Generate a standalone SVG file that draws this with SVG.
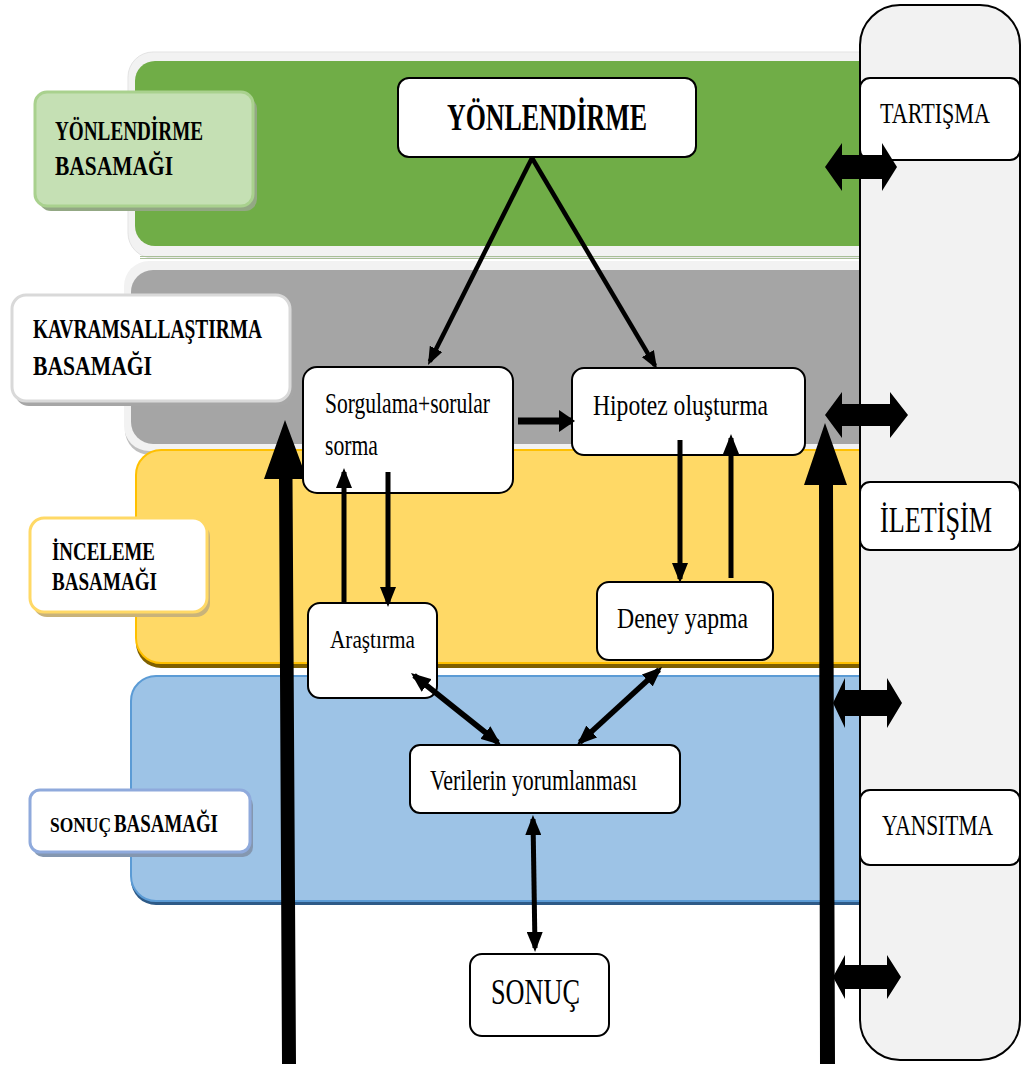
<svg xmlns="http://www.w3.org/2000/svg" width="1023" height="1068" viewBox="0 0 1023 1068">
  <style>
    .node { fill: #ffffff; stroke: #000000; stroke-width: 2; }
    .t { font-family: "Liberation Serif", "DejaVu Serif", "Noto Serif", "Times New Roman", serif; fill: #000000; }
    .b { font-weight: bold; }
    .link { fill: none; stroke: #000000; }
    .block { fill: #000000; }
  </style>
  <defs>
    <marker id="ah" markerUnits="userSpaceOnUse" markerWidth="20" markerHeight="16" refX="16" refY="8" orient="auto-start-reverse">
      <path d="M0,0 L20,8 L0,16 z" fill="#000"/>
    </marker>
    <marker id="ahs" markerUnits="userSpaceOnUse" markerWidth="18" markerHeight="14" refX="14" refY="7" orient="auto-start-reverse">
      <path d="M0,0 L18,7 L0,14 z" fill="#000"/>
    </marker>
    <marker id="ahw" markerUnits="userSpaceOnUse" markerWidth="16" markerHeight="22" refX="12" refY="11" orient="auto">
      <path d="M0,0 L16,11 L0,22 z" fill="#000"/>
    </marker>
  </defs>

  <!-- stage bands -->
  <g id="bands">
    <g id="band-yonlendirme">
      <rect x="128" y="52" width="780" height="206" rx="25" fill="#f2f2f2" stroke="#e3e3e3" stroke-width="1"/>
      <rect x="135" y="61" width="770" height="185" rx="20" fill="#70ad47"/>
      <line x1="140" y1="256.5" x2="860" y2="256.5" stroke="#a8bf98" stroke-width="1"/>
      <line x1="140" y1="258.5" x2="860" y2="258.5" stroke="#a8bf98" stroke-width="1"/>
    </g>
    <g id="band-kavramsallastirma">
      <rect x="125" y="264" width="780" height="191" rx="25" fill="#bfbfbf"/>
      <rect x="124" y="261" width="780" height="190" rx="25" fill="#f2f2f2"/>
      <rect x="131" y="270" width="770" height="174" rx="22" fill="#a5a5a5"/>
    </g>
    <g id="band-inceleme">
      <rect x="136" y="454" width="770" height="214" rx="25" fill="#7f6000"/>
      <rect x="136" y="450" width="770" height="213" rx="25" fill="#ffd966" stroke="#ffc000" stroke-width="2"/>
    </g>
    <g id="band-sonuc">
      <rect x="131" y="680" width="775" height="225" rx="25" fill="#2e5a87"/>
      <rect x="131" y="676" width="775" height="225" rx="25" fill="#9dc3e6" stroke="#5b9bd5" stroke-width="2"/>
    </g>
  </g>

  <!-- side panel -->
  <g id="panel">
    <rect x="860" y="5" width="160" height="1055" rx="40" fill="#f2f2f2" stroke="#000" stroke-width="2"/>
  </g>

  <!-- stage labels (condensed serif: scaled 0.72 horizontally) -->
  <g id="label-yonlendirme">
    <rect x="39" y="97" width="218" height="114" rx="12" fill="#93a884"/>
    <rect x="35" y="92" width="218" height="114" rx="12" fill="#c5e0b4" stroke="#a9d18e" stroke-width="3"/>
    <text class="t b" transform="translate(55,140) scale(0.72,1)" font-size="27" textLength="205.6" lengthAdjust="spacingAndGlyphs">YÖNLENDİRME</text>
    <text class="t b" transform="translate(55,175) scale(0.72,1)" font-size="27" textLength="163.9" lengthAdjust="spacingAndGlyphs">BASAMAĞI</text>
  </g>
  <g id="label-kavramsallastirma">
    <rect x="15" y="300" width="278" height="106" rx="14" fill="#a6a6a6"/>
    <rect x="12" y="295" width="278" height="106" rx="14" fill="#ffffff" stroke="#d9d9d9" stroke-width="3"/>
    <text class="t b" transform="translate(33,338) scale(0.72,1)" font-size="27" textLength="318" lengthAdjust="spacingAndGlyphs">KAVRAMSALLAŞTIRMA</text>
    <text class="t b" transform="translate(33,375) scale(0.72,1)" font-size="27" textLength="165.3" lengthAdjust="spacingAndGlyphs">BASAMAĞI</text>
  </g>
  <g id="label-inceleme">
    <rect x="33" y="523" width="177" height="94" rx="14" fill="#c9b37a"/>
    <rect x="30" y="518" width="177" height="94" rx="14" fill="#ffffff" stroke="#ffd966" stroke-width="3"/>
    <text class="t b" transform="translate(52,560) scale(0.72,1)" font-size="26" textLength="143" lengthAdjust="spacingAndGlyphs">İNCELEME</text>
    <text class="t b" transform="translate(52,590) scale(0.72,1)" font-size="26" textLength="145.8" lengthAdjust="spacingAndGlyphs">BASAMAĞI</text>
  </g>
  <g id="label-sonuc">
    <rect x="33" y="795" width="220" height="62" rx="10" fill="#8497b0"/>
    <rect x="30" y="790" width="220" height="62" rx="10" fill="#ffffff" stroke="#8faadc" stroke-width="3"/>
    <text class="t b" transform="translate(50,832) scale(0.72,1)"><tspan font-size="22" textLength="84.7" lengthAdjust="spacingAndGlyphs">SONUÇ</tspan><tspan x="88.9" font-size="26" textLength="144.4" lengthAdjust="spacingAndGlyphs">BASAMAĞI</tspan></text>
  </g>

  <!-- long vertical arrows -->
  <g id="flow-arrows">
    <polygon class="block" points="282,1064 296,1064 292.5,479 307,479 285,420 264,479 279,479"/>
    <polygon class="block" points="820,1064 835,1064 833,485 847,485 825,423 804,485 819,485"/>
  </g>

  <!-- process nodes -->
  <g id="node-yonlendirme">
    <rect class="node" x="398" y="78" width="298" height="79" rx="11"/>
    <text class="t b" transform="translate(447,130) scale(0.72,1)" font-size="37" textLength="277.8" lengthAdjust="spacingAndGlyphs">YÖNLENDİRME</text>
  </g>
  <g id="node-sorgulama">
    <rect class="node" x="303" y="367" width="210" height="126" rx="14"/>
    <text class="t" transform="translate(325,413) scale(0.72,1)" font-size="29" textLength="229.2" lengthAdjust="spacingAndGlyphs">Sorgulama+sorular</text>
    <text class="t" transform="translate(325,455) scale(0.72,1)" font-size="29" textLength="73.6" lengthAdjust="spacingAndGlyphs">sorma</text>
  </g>
  <g id="node-hipotez">
    <rect class="node" x="572" y="368" width="233" height="87" rx="12"/>
    <text class="t" transform="translate(593,415) scale(0.72,1)" font-size="29" textLength="243" lengthAdjust="spacingAndGlyphs">Hipotez oluşturma</text>
  </g>
  <g id="node-arastirma">
    <rect class="node" x="308" y="603" width="129" height="95" rx="12"/>
    <text class="t" transform="translate(330,648) scale(0.72,1)" font-size="26" textLength="118" lengthAdjust="spacingAndGlyphs">Araştırma</text>
  </g>
  <g id="node-deney">
    <rect class="node" x="597" y="582" width="176" height="78" rx="12"/>
    <text class="t" transform="translate(617,628) scale(0.72,1)" font-size="30" textLength="182" lengthAdjust="spacingAndGlyphs">Deney yapma</text>
  </g>
  <g id="node-veriler">
    <rect class="node" x="410" y="745" width="270" height="68" rx="10"/>
    <text class="t" transform="translate(430,790) scale(0.72,1)" font-size="30" textLength="287.5" lengthAdjust="spacingAndGlyphs">Verilerin yorumlanması</text>
  </g>
  <g id="node-sonuc">
    <rect class="node" x="470" y="954" width="139" height="82" rx="12"/>
    <text class="t" transform="translate(491,1004) scale(0.72,1)" font-size="36" textLength="123.6" lengthAdjust="spacingAndGlyphs">SONUÇ</text>
  </g>
  <g id="node-tartisma">
    <rect class="node" x="860" y="78" width="160" height="82" rx="10"/>
    <text class="t" transform="translate(880,123) scale(0.72,1)" font-size="29" textLength="152.8" lengthAdjust="spacingAndGlyphs">TARTIŞMA</text>
  </g>
  <g id="node-iletisim">
    <rect class="node" x="860" y="482" width="160" height="68" rx="10"/>
    <text class="t" transform="translate(880,532) scale(0.72,1)" font-size="35" textLength="155.6" lengthAdjust="spacingAndGlyphs">İLETİŞİM</text>
  </g>
  <g id="node-yansitma">
    <rect class="node" x="860" y="790" width="160" height="75" rx="10"/>
    <text class="t" transform="translate(882,835) scale(0.72,1)" font-size="29" textLength="154.2" lengthAdjust="spacingAndGlyphs">YANSITMA</text>
  </g>

  <!-- connectors -->
  <g id="connectors">
    <line class="link" x1="532" y1="158" x2="429.8" y2="361.4" stroke-width="4.5" marker-end="url(#ahs)"/>
    <line class="link" x1="532" y1="158" x2="655" y2="365.6" stroke-width="4.5" marker-end="url(#ahs)"/>
    <line class="link" x1="518" y1="421" x2="571" y2="421" stroke-width="7" marker-end="url(#ahw)"/>
    <line class="link" x1="344" y1="603" x2="344" y2="472" stroke-width="5" marker-end="url(#ah)"/>
    <line class="link" x1="388" y1="472" x2="388" y2="603" stroke-width="5" marker-end="url(#ah)"/>
    <line class="link" x1="680" y1="440" x2="680" y2="579" stroke-width="5" marker-end="url(#ah)"/>
    <line class="link" x1="731" y1="578" x2="731" y2="438" stroke-width="5" marker-end="url(#ah)"/>
    <line class="link" x1="414.1" y1="675.5" x2="497.9" y2="742.5" stroke-width="5.5" marker-start="url(#ah)" marker-end="url(#ah)"/>
    <line class="link" x1="659.1" y1="669.7" x2="579.9" y2="742.3" stroke-width="5.5" marker-start="url(#ah)" marker-end="url(#ah)"/>
    <line class="link" x1="533" y1="819" x2="535" y2="948" stroke-width="5" marker-start="url(#ah)" marker-end="url(#ah)"/>
    <!-- two-way links to the side panel -->
    <polygon class="block" points="825,167 842,143 842,155 882,155 882,143 897,167 882,191 882,179 842,179 842,191"/>
    <polygon class="block" points="825,415 842,392 842,404 890,404 890,392 908,415 890,438 890,426 842,426 842,438"/>
    <polygon class="block" points="833,703 845,678 845,690 887,690 887,678 902,703 887,728 887,716 845,716 845,728"/>
    <polygon class="block" points="833,977 845,955 845,965 887,965 887,955 901,977 887,999 887,989 845,989 845,999"/>
  </g>
</svg>
